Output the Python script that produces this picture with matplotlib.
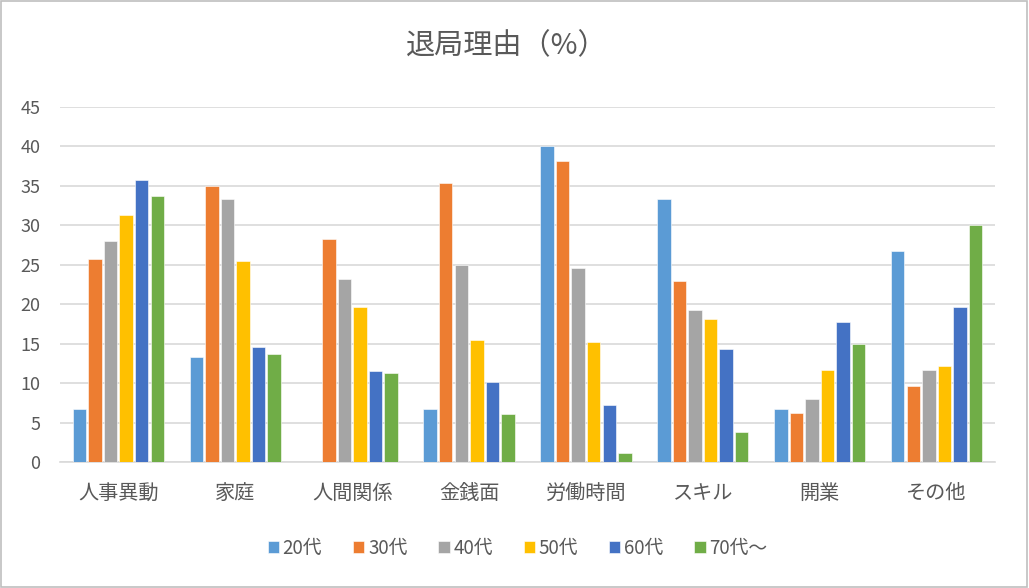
import numpy as np
import matplotlib
matplotlib.use('Agg')
import matplotlib.pyplot as plt
from matplotlib.patches import Rectangle

plt.rcParams['font.family'] = ['Noto Sans CJK JP', 'DejaVu Sans']

# データ
categories = ['人事異動', '家庭', '人間関係', '金銭面', '労働時間', 'スキル', '開業', 'その他']
series_names = ['20代', '30代', '40代', '50代', '60代', '70代～']
age20 = [6.7, 13.3, 0.0, 6.7, 40.0, 33.3, 6.7, 26.7]
age30 = [25.7, 35.0, 28.3, 35.4, 38.2, 22.9, 6.2, 9.6]
age40 = [28.0, 33.3, 23.2, 25.0, 24.6, 19.3, 8.0, 11.7]
age50 = [31.3, 25.5, 19.6, 15.5, 15.2, 18.1, 11.7, 12.2]
age60 = [35.7, 14.6, 11.5, 10.1, 7.3, 14.3, 17.8, 19.7]
age70 = [33.7, 13.7, 11.3, 6.1, 1.2, 3.8, 15.0, 30.0]
yticks = list(range(0, 50, 5))

series = [age20, age30, age40, age50, age60, age70]
colors = ['#5B9BD5', '#ED7D31', '#A5A5A5', '#FFC000', '#4472C4', '#70AD47']
text_color = '#595959'
grid_color = '#D9D9D9'

fig = plt.figure(figsize=(10.29, 5.88), dpi=100)
ax = fig.add_axes([0.0583, 0.214, 0.9087, 0.604])

x = np.arange(len(categories))
step = 0.133
width = 0.115
for i, (vals, name, c) in enumerate(zip(series, series_names, colors)):
    offset = (i - 2.5) * step
    ax.bar(x + offset, vals, width, color=c, label=name,
           edgecolor='white', linewidth=0.4, zorder=3)

ax.set_xlim(-0.5, len(categories) - 0.5)
ax.set_ylim(0, 45)
ax.set_yticks(yticks)
ax.set_xticks(x)
ax.set_xticklabels(categories)
ax.yaxis.grid(True, color=grid_color, linewidth=1.2, zorder=0)
ax.set_axisbelow(True)
for s in ['top', 'right', 'left']:
    ax.spines[s].set_visible(False)
ax.spines['bottom'].set_color(grid_color)
ax.spines['bottom'].set_linewidth(1.2)
ax.tick_params(axis='both', length=0, colors=text_color)
ax.tick_params(axis='x', labelsize=14.5, pad=15)
ax.tick_params(axis='y', labelsize=13, pad=14)

fig.text(0.492, 0.922, '退局理由（%）', ha='center', va='center',
         fontsize=21, color=text_color)

handles, labels = ax.get_legend_handles_labels()
leg = fig.legend(handles, labels, loc='center', bbox_to_anchor=(0.503, 0.068),
                 ncol=6, frameon=False, fontsize=13.5, handlelength=0.6,
                 handleheight=0.6, handletextpad=0.2, columnspacing=1.65)
for t in leg.get_texts():
    t.set_color(text_color)

fig.patches.append(Rectangle((0.001, 0.001), 0.997, 0.997, transform=fig.transFigure,
                             fill=False, edgecolor='#BFBFBF', linewidth=1.2))

fig.savefig('out.png', dpi=100)
